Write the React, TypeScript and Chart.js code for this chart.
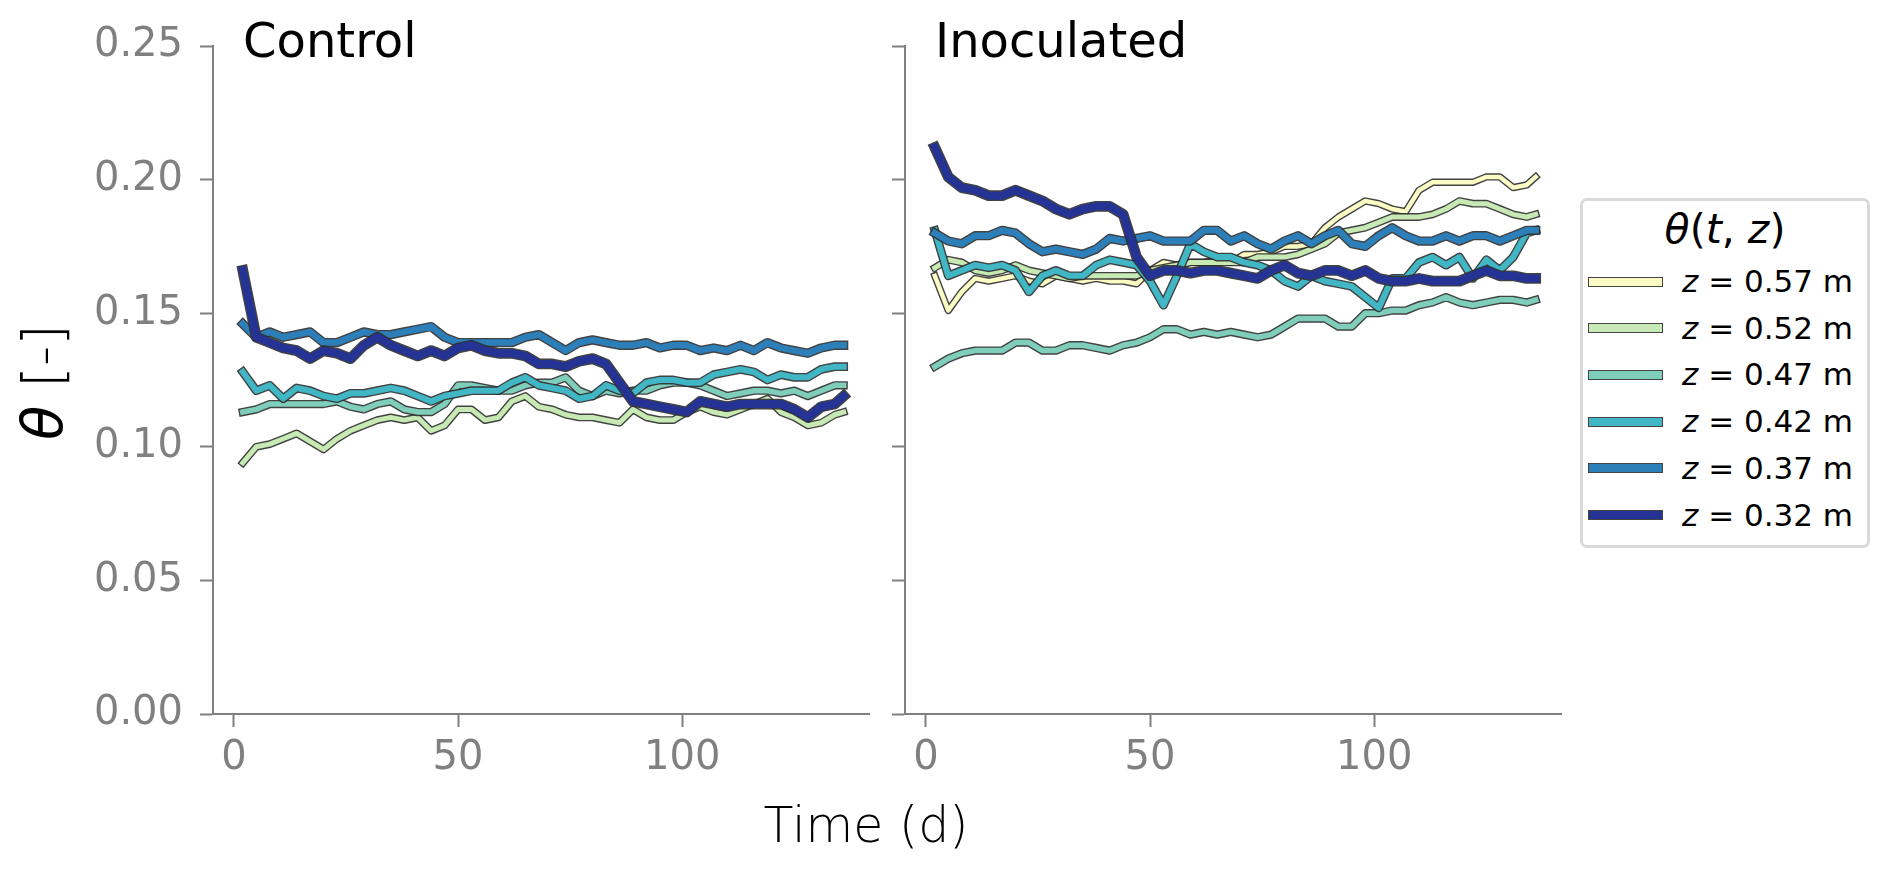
import React, { useEffect, useRef } from 'react';
import Chart from 'chart.js/auto';

// Sampling days (d)
const DAYS = [
  2, 5, 8, 11, 14, 17, 20, 23, 26, 29, 32, 35, 38, 41, 44, 47, 50, 53, 56, 59, 62, 65, 68,
  71, 74, 77, 80, 83, 86, 89, 92, 95, 98, 101, 104, 107, 110, 113, 116, 119, 122, 125, 128,
  131, 134, 136,
];

const X_TICKS = [0, 50, 100];
const Y_TICKS = [0, 0.05, 0.1, 0.15, 0.2, 0.25];
const DEPTHS = ['0.57', '0.52', '0.47', '0.42', '0.37', '0.32'];

// Control panel (no data at z = 0.57 m)
const CONTROL_052 = [
  0.094, 0.100, 0.101, 0.103, 0.105, 0.102, 0.099, 0.103, 0.106, 0.108,
  0.110, 0.111, 0.110, 0.111, 0.106, 0.108, 0.114, 0.114, 0.110, 0.111,
  0.117, 0.119, 0.115, 0.114, 0.112, 0.111, 0.111, 0.110, 0.109, 0.114,
  0.111, 0.110, 0.110, 0.113, 0.115, 0.113, 0.112, 0.114, 0.116, 0.118,
  0.113, 0.111, 0.108, 0.109, 0.112, 0.113,
];
const CONTROL_047 = [
  0.113, 0.114, 0.116, 0.116, 0.116, 0.116, 0.116, 0.117, 0.115, 0.114,
  0.116, 0.117, 0.114, 0.113, 0.113, 0.116, 0.123, 0.123, 0.122, 0.121,
  0.121, 0.123, 0.124, 0.124, 0.126, 0.121, 0.119, 0.121, 0.120, 0.121,
  0.121, 0.123, 0.124, 0.124, 0.123, 0.121, 0.119, 0.120, 0.121, 0.121,
  0.120, 0.121, 0.119, 0.121, 0.123, 0.123,
];
const CONTROL_042 = [
  0.128, 0.121, 0.123, 0.118, 0.122, 0.121, 0.119, 0.118, 0.120, 0.120,
  0.121, 0.122, 0.121, 0.119, 0.117, 0.119, 0.120, 0.121, 0.121, 0.121,
  0.124, 0.126, 0.123, 0.122, 0.121, 0.118, 0.119, 0.123, 0.121, 0.120,
  0.124, 0.125, 0.125, 0.124, 0.124, 0.127, 0.128, 0.129, 0.128, 0.125,
  0.127, 0.126, 0.126, 0.129, 0.130, 0.130,
];
const CONTROL_037 = [
  0.146, 0.141, 0.143, 0.141, 0.142, 0.143, 0.139, 0.139, 0.141, 0.143,
  0.142, 0.142, 0.143, 0.144, 0.145, 0.141, 0.139, 0.139, 0.139, 0.139,
  0.139, 0.141, 0.142, 0.139, 0.136, 0.139, 0.140, 0.139, 0.138, 0.138,
  0.139, 0.137, 0.138, 0.138, 0.136, 0.137, 0.136, 0.138, 0.136, 0.139,
  0.137, 0.136, 0.135, 0.137, 0.138, 0.138,
];
const CONTROL_032 = [
  0.166, 0.141, 0.139, 0.137, 0.136, 0.133, 0.136, 0.135, 0.133, 0.138,
  0.141, 0.138, 0.136, 0.134, 0.136, 0.134, 0.137, 0.138, 0.136, 0.135,
  0.135, 0.134, 0.131, 0.131, 0.130, 0.132, 0.133, 0.131, 0.124, 0.117,
  0.116, 0.115, 0.114, 0.113, 0.117, 0.116, 0.115, 0.116, 0.116, 0.116,
  0.116, 0.114, 0.111, 0.115, 0.116, 0.119,
];

// Inoculated panel
const INOC_057 = [
  0.164, 0.151, 0.158, 0.163, 0.162, 0.163, 0.164, 0.162, 0.161, 0.164,
  0.163, 0.162, 0.163, 0.162, 0.162, 0.161, 0.166, 0.169, 0.168, 0.169,
  0.169, 0.170, 0.169, 0.172, 0.172, 0.173, 0.175, 0.175, 0.176, 0.182,
  0.186, 0.189, 0.192, 0.191, 0.189, 0.188, 0.196, 0.199, 0.199, 0.199,
  0.199, 0.201, 0.201, 0.197, 0.198, 0.201,
];
const INOC_052 = [
  0.167, 0.170, 0.169, 0.166, 0.165, 0.166, 0.168, 0.166, 0.165, 0.164,
  0.163, 0.164, 0.164, 0.164, 0.164, 0.164, 0.166, 0.167, 0.168, 0.169,
  0.169, 0.169, 0.169, 0.169, 0.171, 0.171, 0.171, 0.172, 0.174, 0.176,
  0.180, 0.181, 0.182, 0.184, 0.186, 0.186, 0.186, 0.187, 0.189, 0.192,
  0.191, 0.191, 0.189, 0.187, 0.186, 0.187,
];
const INOC_047 = [
  0.130, 0.133, 0.135, 0.136, 0.136, 0.136, 0.139, 0.139, 0.136, 0.136,
  0.138, 0.138, 0.137, 0.136, 0.138, 0.139, 0.141, 0.144, 0.144, 0.142,
  0.143, 0.142, 0.143, 0.142, 0.141, 0.142, 0.145, 0.148, 0.148, 0.148,
  0.145, 0.145, 0.150, 0.150, 0.151, 0.151, 0.153, 0.154, 0.156, 0.154,
  0.153, 0.154, 0.155, 0.155, 0.154, 0.155,
];
const INOC_042 = [
  0.181, 0.164, 0.166, 0.168, 0.167, 0.168, 0.166, 0.158, 0.164, 0.166,
  0.164, 0.164, 0.168, 0.170, 0.169, 0.168, 0.162, 0.153, 0.164, 0.176,
  0.173, 0.171, 0.171, 0.169, 0.168, 0.166, 0.162, 0.160, 0.164, 0.162,
  0.161, 0.160, 0.156, 0.152, 0.163, 0.163, 0.169, 0.171, 0.168, 0.171,
  0.163, 0.170, 0.166, 0.171, 0.180, 0.181,
];
const INOC_037 = [
  0.180, 0.177, 0.176, 0.179, 0.179, 0.181, 0.180, 0.176, 0.173, 0.174,
  0.173, 0.172, 0.174, 0.178, 0.177, 0.178, 0.179, 0.177, 0.177, 0.177,
  0.181, 0.181, 0.177, 0.179, 0.176, 0.174, 0.177, 0.179, 0.176, 0.179,
  0.181, 0.176, 0.175, 0.179, 0.182, 0.179, 0.177, 0.177, 0.179, 0.177,
  0.179, 0.179, 0.177, 0.179, 0.181, 0.181,
];
const INOC_032 = [
  0.212, 0.201, 0.197, 0.196, 0.194, 0.194, 0.196, 0.194, 0.192, 0.189,
  0.187, 0.189, 0.190, 0.190, 0.187, 0.171, 0.164, 0.166, 0.166, 0.165,
  0.166, 0.166, 0.165, 0.164, 0.163, 0.166, 0.168, 0.165, 0.164, 0.166,
  0.166, 0.164, 0.166, 0.163, 0.162, 0.162, 0.163, 0.162, 0.162, 0.162,
  0.164, 0.166, 0.164, 0.164, 0.163, 0.163,
];

// Styling
const FONT = '"DejaVu Sans", sans-serif';
const LIGHT_FONT = '"DejaVu Sans ExtraLight", "DejaVu Sans", sans-serif';
const AXIS_GREY = '#808080';
const OUTLINE = 'rgba(45, 45, 45, 0.9)';
const LINE_STYLE: Record<string, { color: string; width: number }> = {
  '0.57': { color: '#fbfbc4', width: 4.5 },
  '0.52': { color: '#c7e9b4', width: 5 },
  '0.47': { color: '#7fcdbb', width: 5.5 },
  '0.42': { color: '#41b6c4', width: 6 },
  '0.37': { color: '#2c7fb8', width: 6.5 },
  '0.32': { color: '#253494', width: 8 },
};

interface Series {
  depth: string;
  values: number[];
}

const CONTROL_SERIES: Series[] = [
  { depth: '0.52', values: CONTROL_052 },
  { depth: '0.47', values: CONTROL_047 },
  { depth: '0.42', values: CONTROL_042 },
  { depth: '0.37', values: CONTROL_037 },
  { depth: '0.32', values: CONTROL_032 },
];

const INOC_SERIES: Series[] = [
  { depth: '0.57', values: INOC_057 },
  { depth: '0.52', values: INOC_052 },
  { depth: '0.47', values: INOC_047 },
  { depth: '0.42', values: INOC_042 },
  { depth: '0.37', values: INOC_037 },
  { depth: '0.32', values: INOC_032 },
];

interface PanelProps {
  title: string;
  series: Series[];
  left: number;
  width: number;
  axisWidth: number;
  padRight: number;
  showYLabels: boolean;
}

const Panel: React.FC<PanelProps> = ({ title, series, left, width, axisWidth, padRight, showYLabels }) => {
  const canvasRef = useRef<HTMLCanvasElement | null>(null);

  useEffect(() => {
    if (!canvasRef.current) return;

    // each series: dark outline first, coloured line on top of it
    const datasets: any[] = [];
    series.forEach((s) => {
      const st = LINE_STYLE[s.depth];
      const data = DAYS.map((d, i) => ({ x: d, y: s.values[i] }));
      const common = {
        data,
        pointRadius: 0,
        fill: false,
        tension: 0,
        borderJoinStyle: 'round',
        borderCapStyle: 'square',
      };
      datasets.push({ ...common, borderColor: OUTLINE, borderWidth: st.width + 2.8 });
      datasets.push({ ...common, borderColor: st.color, borderWidth: st.width });
    });
    // first dataset in the list is drawn first (lowest)
    datasets.forEach((d, i) => {
      d.order = datasets.length - i;
    });

    const titlePlugin = {
      id: 'panelTitle',
      afterDraw(chart: Chart) {
        const { ctx, chartArea } = chart;
        ctx.save();
        ctx.font = `48px ${FONT}`;
        ctx.fillStyle = '#000';
        ctx.textBaseline = 'alphabetic';
        ctx.textAlign = 'left';
        ctx.fillText(title, chartArea.left + 30, 57);
        ctx.restore();
      },
    };

    const chart = new Chart(canvasRef.current, {
      type: 'line',
      data: { datasets },
      options: {
        animation: false,
        responsive: true,
        maintainAspectRatio: false,
        layout: { padding: { top: 46, right: padRight, left: 0, bottom: 0 } },
        plugins: {
          legend: { display: false },
          tooltip: { enabled: false },
        },
        scales: {
          x: {
            type: 'linear',
            min: -4.65,
            max: 141.65,
            afterBuildTicks: (axis: any) => {
              axis.ticks = X_TICKS.map((value) => ({ value }));
            },
            afterFit: (axis: any) => {
              axis.height = 155;
            },
            grid: {
              drawOnChartArea: false,
              drawTicks: true,
              tickLength: 13,
              tickWidth: 2,
              tickColor: AXIS_GREY,
            },
            border: { display: true, color: AXIS_GREY, width: 2 },
            ticks: {
              color: AXIS_GREY,
              font: { family: FONT, size: 40 },
              padding: 8,
              maxRotation: 0,
              autoSkip: false,
            },
          },
          y: {
            type: 'linear',
            min: 0,
            max: 0.25,
            afterBuildTicks: (axis: any) => {
              axis.ticks = Y_TICKS.map((value) => ({ value }));
            },
            afterFit: (axis: any) => {
              axis.width = axisWidth;
            },
            grid: {
              drawOnChartArea: false,
              drawTicks: true,
              tickLength: 13,
              tickWidth: 2,
              tickColor: AXIS_GREY,
            },
            border: { display: true, color: AXIS_GREY, width: 2 },
            ticks: {
              color: showYLabels ? AXIS_GREY : 'rgba(0,0,0,0)',
              font: { family: FONT, size: 40 },
              padding: 17,
              autoSkip: false,
              callback: (v: any) => Number(v).toFixed(2),
            },
          },
        },
      },
      plugins: [titlePlugin],
    });

    return () => {
      chart.destroy();
    };
  }, []);

  return (
    <div style={{ position: 'absolute', left, top: 0, width, height: 869 }}>
      <canvas ref={canvasRef}></canvas>
    </div>
  );
};

const Legend: React.FC = () => {
  const rowTop = 281.5;
  const rowStep = 46.7;
  return (
    <div
      style={{
        position: 'absolute',
        left: 1580,
        top: 198,
        width: 290,
        height: 350,
        boxSizing: 'border-box',
        border: '3px solid #d9d9d9',
        borderRadius: 7,
        background: '#fff',
      }}
    >
      <div
        style={{
          position: 'absolute',
          left: 0,
          width: '100%',
          top: 209 - 198 - 3,
          textAlign: 'center',
          fontFamily: FONT,
          fontSize: 41,
          lineHeight: '41px',
          color: '#000',
          whiteSpace: 'nowrap',
        }}
      >
        <i>θ</i>(<i>t</i>,&nbsp;<i>z</i>)
      </div>
      {DEPTHS.map((d, i) => {
        const cy = rowTop + i * rowStep - 198 - 3;
        return (
          <React.Fragment key={d}>
            <div
              style={{
                position: 'absolute',
                left: 1588 - 1580 - 3,
                top: cy - 5,
                width: 75,
                height: 10,
                boxSizing: 'border-box',
                border: '1.5px solid #444',
                background: LINE_STYLE[d].color,
              }}
            />
            <div
              style={{
                position: 'absolute',
                left: 1682 - 1580 - 3,
                top: cy - 15.5,
                fontFamily: FONT,
                fontSize: 31,
                lineHeight: '31px',
                color: '#000',
                whiteSpace: 'nowrap',
              }}
            >
              <i>z</i>
              {' = '}
              {d} m
            </div>
          </React.Fragment>
        );
      })}
    </div>
  );
};

const App: React.FC = () => {
  return (
    <div
      style={{
        position: 'fixed',
        left: 0,
        top: 0,
        width: 1892,
        height: 869,
        background: '#fff',
        overflow: 'hidden',
      }}
    >
      <Panel
        title="Control"
        series={CONTROL_SERIES}
        left={0}
        width={895}
        axisWidth={213}
        padRight={26}
        showYLabels={true}
      />
      <Panel
        title="Inoculated"
        series={INOC_SERIES}
        left={880}
        width={700}
        axisWidth={25}
        padRight={19}
        showYLabels={false}
      />
      <Legend />
      {/* y-axis label */}
      <div
        style={{
          position: 'absolute',
          left: 43,
          top: 382,
          transform: 'translate(-50%, -50%) rotate(-90deg)',
          whiteSpace: 'nowrap',
          fontSize: 56,
          lineHeight: '56px',
          color: '#000',
        }}
      >
        <span style={{ fontFamily: FONT, fontStyle: 'italic' }}>θ</span>
        <span style={{ fontFamily: LIGHT_FONT, fontWeight: 200 }}> [-]</span>
      </div>
      {/* x-axis label */}
      <div
        style={{
          position: 'absolute',
          left: 866,
          top: 801,
          transform: 'translateX(-50%)',
          whiteSpace: 'nowrap',
          fontFamily: LIGHT_FONT,
          fontWeight: 200,
          fontSize: 49,
          lineHeight: '49px',
          color: '#000',
        }}
      >
        Time (d)
      </div>
    </div>
  );
};

export default App;
